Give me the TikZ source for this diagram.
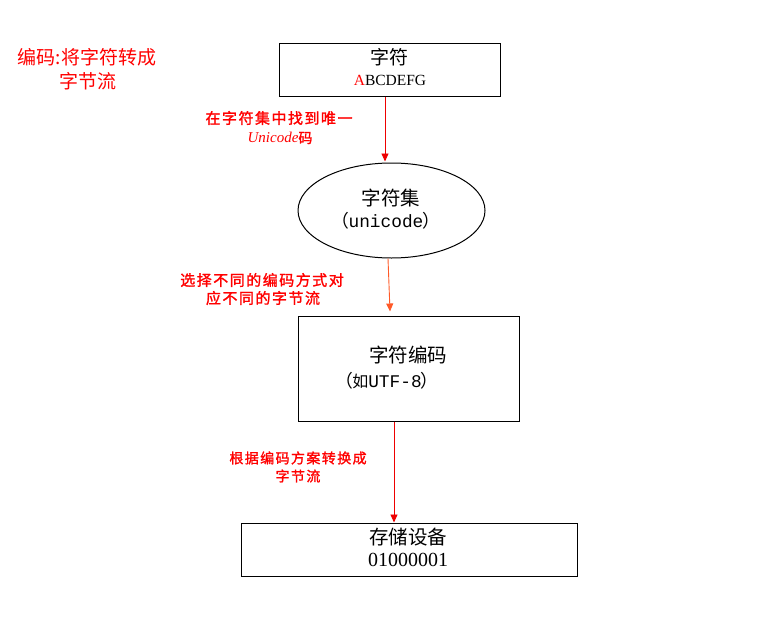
\documentclass[tikz,border=0pt]{standalone}
\usepackage{fontspec}
\setmainfont{Liberation Serif}
\setmonofont{Liberation Mono}
\newfontfamily\cjk{Noto Sans CJK SC}
\newfontfamily\cjknote{Noto Sans CJK SC}[LetterSpace=10,FakeBold=1.5]
\usetikzlibrary{shapes.geometric,arrows.meta}
\definecolor{notered}{RGB}{255,0,0}
\definecolor{flowred}{RGB}{238,0,0}
\definecolor{floworange}{RGB}{255,90,40}
% full-width brackets with their outer blank half trimmed
\newcommand{\lpar}{\hspace{-8pt}{\cjk （}\hspace{-1pt}}
\newcommand{\rpar}{\hspace{-1pt}{\cjk ）}\hspace{-8pt}}
\tikzset{
  box/.style={draw=black,line width=1pt,rectangle,inner sep=0pt},
  oval/.style={draw=black,line width=1pt,ellipse,inner sep=0pt},
  txt/.style={inner sep=0pt,anchor=center},
  note/.style={inner sep=0pt,anchor=center,text=notered},
  flow/.style={line width=0.9pt,-{Triangle[length=8pt,width=7pt]}},
}
\begin{document}
\begin{tikzpicture}[x=1pt,y=-1pt]
\useasboundingbox (0,0) rectangle (783,624);

% title note
\node[note] (t1) at (87,57) {\cjk\fontsize{19}{20}\selectfont 编码:将字符转成};
\node[note] (t2) at (88,81) {\cjk\fontsize{19}{20}\selectfont 字节流};

% characters
\node[box,minimum width=221pt,minimum height=53pt] (chars) at (389.5,69.5) {};
\node[txt] (charsA) at (389,57) {\cjk\fontsize{19}{20}\selectfont 字符};
\node[txt] (charsB) at (390,80) {\fontsize{15.5}{16}\selectfont\textcolor{notered}{A}BCDEFG};

% character set
\node[oval,minimum width=187pt,minimum height=95pt] (cset) at (391.5,210.5) {};
\node[txt] (csetA) at (391,198) {\cjk\fontsize{19.5}{20}\selectfont 字符集};
\node[txt] (csetB) at (390,221) {\fontsize{17.8}{18}\selectfont\lpar\ttfamily unicode\rpar};

% encoding
\node[box,minimum width=221pt,minimum height=105pt] (enc) at (408.5,368.5) {};
\node[txt] (encA) at (408,355) {\cjk\fontsize{19.5}{20}\selectfont 字符编码};
\node[txt] (encB) at (391,381) {\fontsize{17.8}{18}\selectfont\lpar{\cjk\fontsize{16}{18}\selectfont 如}\ttfamily UTF-8\rpar};

% storage
\node[box,minimum width=336pt,minimum height=53pt] (dev) at (409,549.5) {};
\node[txt] (devA) at (408,537) {\cjk\fontsize{19.5}{20}\selectfont 存储设备};
\node[txt] (devB) at (408,560) {\fontsize{20}{20}\selectfont 01000001};

% connectors
\draw[flow,flowred] ([xshift=-4.5pt]chars.south) -- ([xshift=-6.5pt,yshift=1pt]cset.north);
\draw[flow,floworange] ([xshift=-3.5pt]cset.south) -- ([xshift=-18.5pt,yshift=4pt]enc.north);
\draw[flow,flowred] ([xshift=-14.5pt]enc.south) -- ([xshift=-15pt]dev.north);

% step notes
\node[note] (n1a) at (279,118) {\cjknote\fontsize{15}{16}\selectfont 在字符集中找到唯一};
\node[note] (n1b) at (280,138) {\fontsize{15}{15}\selectfont\itshape Unicode\cjknote\upshape\fontsize{14}{15}\selectfont 码};
\node[note] (n2a) at (262,280) {\cjknote\fontsize{15}{16}\selectfont 选择不同的编码方式对};
\node[note] (n2b) at (263,298) {\cjknote\fontsize{15}{16}\selectfont 应不同的字节流};
\node[note] (n3a) at (298,458) {\cjknote\fontsize{14}{15}\selectfont 根据编码方案转换成};
\node[note] (n3b) at (298,476) {\cjknote\fontsize{14}{15}\selectfont 字节流};
\end{tikzpicture}
\end{document}
